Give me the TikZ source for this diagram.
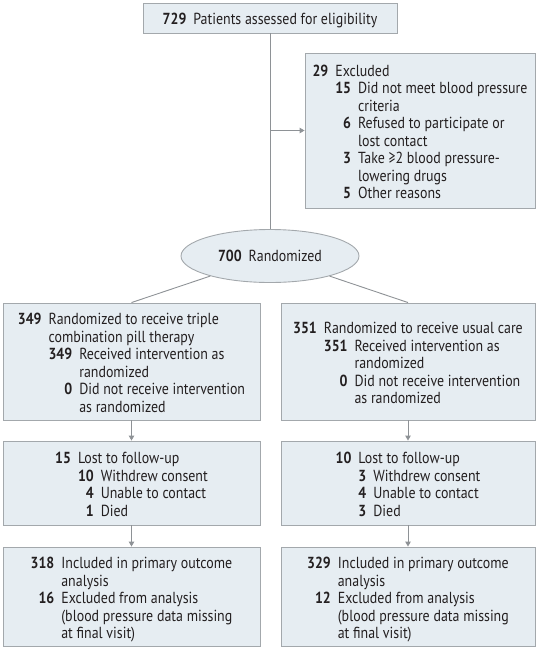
\documentclass[tikz,border=0pt]{standalone}
\usepackage{fontspec}
\setmainfont{PT Sans}[FakeStretch=0.87]
\usetikzlibrary{shapes.geometric,arrows.meta}
\definecolor{boxfill}{HTML}{E6EDF2}
\definecolor{boxline}{HTML}{A3A8AC}
\definecolor{connc}{HTML}{8E9296}
\definecolor{txt}{HTML}{231F20}
\newcommand{\nb}[1]{\textbf{#1}}
\begin{document}
\begin{tikzpicture}[x=1pt,y=-1pt,
  every node/.style={font=\fontsize{16}{17.5}\selectfont, text=txt},
  box/.style={draw=boxline, fill=boxfill, line width=0.9pt, inner sep=0pt, rectangle},
  ellbox/.style={draw=boxline, fill=boxfill, line width=0.9pt, inner sep=0pt, ellipse},
  content/.style={inner sep=0pt},
  conn/.style={draw=connc, line width=0.9pt},
  arr/.style={conn, -{Triangle[length=5pt,width=5.5pt]}}]
\useasboundingbox (0,0) rectangle (540,649);
\node[box, minimum width=254pt, minimum height=30pt] (top) at (270,18) {};
\node[content] (topt) at ([yshift=-2pt]top.center)
  {\nb{729}\hspace{7pt}Patients assessed for eligibility};
\node[box, minimum width=230pt, minimum height=155pt] (excl) at (420,130.5) {};
\node[content] (exclt) at ([yshift=-3.5pt]excl.center)
  {\begin{tabular}{@{}r@{\hspace{7pt}}l@{}}
   \nb{29} & Excluded\\
   & \begin{tabular}[t]{@{}r@{\hspace{7pt}}l@{}}
     \nb{15} & Did not meet blood pressure\\
     & criteria\\
     \nb{6} & Refused to participate or\\
     & lost contact\\
     \nb{3} & Take ≥2 blood pressure-\\
     & lowering drugs\\
     \nb{5} & Other reasons
     \end{tabular}
   \end{tabular}};
\node[ellbox, minimum width=178pt, minimum height=53pt] (rand) at (270,256)
  {\nb{700}\hspace{7pt}Randomized};
\node[box, minimum width=257pt, minimum height=117pt] (L1) at (131.5,361.5) {};
\node[content] (L1t) at ([yshift=-3.5pt]L1.center)
  {\begin{tabular}{@{}r@{\hspace{7pt}}l@{}}
   \nb{349} & Randomized to receive triple\\
   & combination pill therapy\\
   & \begin{tabular}[t]{@{}r@{\hspace{7pt}}l@{}}
     \nb{349} & Received intervention as\\
     & randomized\\
     \nb{0} & Did not receive intervention\\
     & as randomized
     \end{tabular}
   \end{tabular}};
\node[box, minimum width=254pt, minimum height=117pt] (R1) at (408,361.5) {};
\node[content] (R1t) at ([yshift=-3.5pt]R1.center)
  {\begin{tabular}{@{}r@{\hspace{7pt}}l@{}}
   \nb{351} & Randomized to receive usual care\\
   & \begin{tabular}[t]{@{}r@{\hspace{7pt}}l@{}}
     \nb{351} & Received intervention as\\
     & randomized\\
     \nb{0} & Did not receive intervention\\
     & as randomized
     \end{tabular}
   \end{tabular}};
\node[box, minimum width=257pt, minimum height=84pt] (L2) at (131.5,483) {};
\node[content] (L2t) at ([yshift=-3.5pt]L2.center)
  {\begin{tabular}{@{}r@{\hspace{7pt}}l@{}}
   \nb{15} & Lost to follow-up\\
   & \begin{tabular}[t]{@{}r@{\hspace{7pt}}l@{}}
     \nb{10} & Withdrew consent\\
     \nb{4} & Unable to contact\\
     \nb{1} & Died
     \end{tabular}
   \end{tabular}};
\node[box, minimum width=254pt, minimum height=84pt] (R2) at (408,483) {};
\node[content] (R2t) at ([yshift=-3.5pt]R2.center)
  {\begin{tabular}{@{}r@{\hspace{7pt}}l@{}}
   \nb{10} & Lost to follow-up\\
   & \begin{tabular}[t]{@{}r@{\hspace{7pt}}l@{}}
     \nb{3} & Withdrew consent\\
     \nb{4} & Unable to contact\\
     \nb{3} & Died
     \end{tabular}
   \end{tabular}};
\node[box, minimum width=257pt, minimum height=99pt] (L3) at (131.5,596.5) {};
\node[content] (L3t) at ([yshift=-3.5pt]L3.center)
  {\begin{tabular}{@{}r@{\hspace{7pt}}l@{}}
   \nb{318} & Included in primary outcome\\
   & analysis\\
   \nb{16} & Excluded from analysis\\
   & (blood pressure data missing\\
   & at final visit)
   \end{tabular}};
\node[box, minimum width=254pt, minimum height=99pt] (R3) at (408,596.5) {};
\node[content] (R3t) at ([yshift=-3.5pt]R3.center)
  {\begin{tabular}{@{}r@{\hspace{7pt}}l@{}}
   \nb{329} & Included in primary outcome\\
   & analysis\\
   \nb{12} & Excluded from analysis\\
   & (blood pressure data missing\\
   & at final visit)
   \end{tabular}};
\coordinate (j) at (270,130.5);
\draw[conn] (top.south) -- (rand.north);
\draw[arr] (j) -- (excl.west);
\draw[conn] (rand) -- (L1.north);
\draw[conn] (rand) -- (R1.north);
\draw[arr] (L1.south) -- (L2.north);
\draw[arr] (R1.south) -- (R2.north);
\draw[arr] (L2.south) -- (L3.north);
\draw[arr] (R2.south) -- (R3.north);
\end{tikzpicture}
\end{document}
